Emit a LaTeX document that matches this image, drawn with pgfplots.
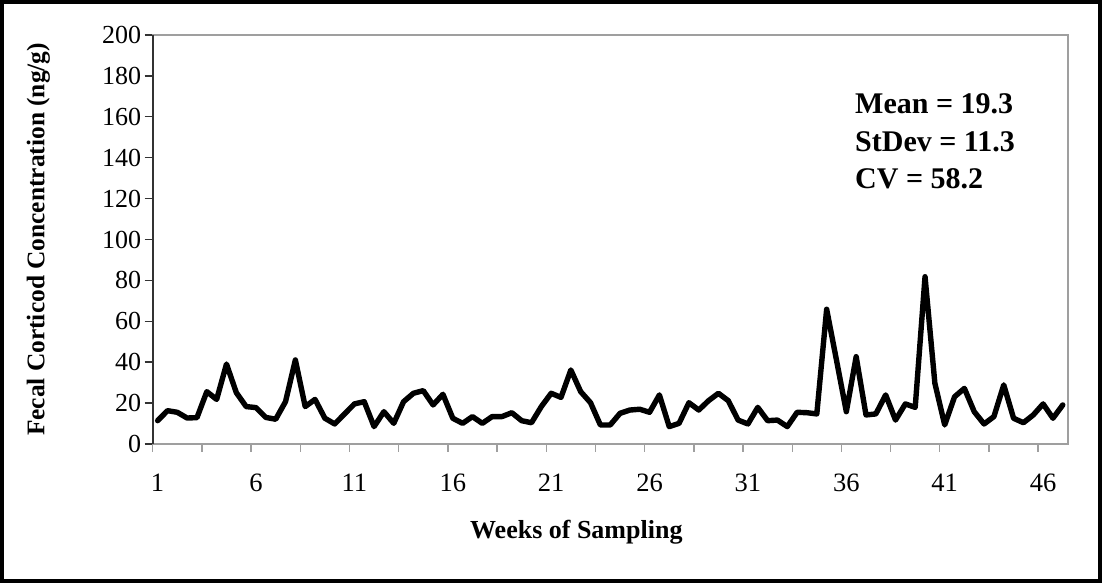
\documentclass[border=0pt]{standalone}
\usepackage{fontspec}
\setmainfont{Liberation Serif}
\usepackage{pgfplots}
\pgfplotsset{compat=1.18}
\usepackage{pgfplotstable}

% fecal corticoid concentration, two samples per week (index 0 = first sample of week 1)
\pgfplotstableread{
k conc
0 11.4
1 16.3
2 15.5
3 12.7
4 12.9
5 25.6
6 21.8
7 39.1
8 25.1
9 18.3
10 17.8
11 13.0
12 12.1
13 20.7
14 41.1
15 18.3
16 21.8
17 12.6
18 9.8
19 14.7
20 19.6
21 20.7
22 8.5
23 15.8
24 10.1
25 20.7
26 24.8
27 26.1
28 19.1
29 24.3
30 12.6
31 10.1
32 13.4
33 10.1
34 13.4
35 13.4
36 15.3
37 11.4
38 10.4
39 18.3
40 24.8
41 22.8
42 36.2
43 25.6
44 20.2
45 9.3
46 9.3
47 15.0
48 16.6
49 17.0
50 15.5
51 24.0
52 8.5
53 10.1
54 20.2
55 16.6
56 21.2
57 24.8
58 21.2
59 11.7
60 9.8
61 17.9
62 11.4
63 11.7
64 8.5
65 15.5
66 15.3
67 14.7
68 65.9
69 41.0
70 15.8
71 42.7
72 14.2
73 14.7
74 24.0
75 11.7
76 19.6
77 17.9
78 81.8
79 29.7
80 9.3
81 23.1
82 27.2
83 15.8
84 9.8
85 13.4
86 28.9
87 12.6
88 10.4
89 14.2
90 19.6
91 12.6
92 19.1
}\conctable

\begin{document}
\begin{tikzpicture}[x=1pt,y=1pt]
\useasboundingbox (0,0) rectangle (1102,583);
% outer chart frame
\draw[line width=4pt] (2,2) rectangle (1100,581);

\begin{axis}[
  at={(152.7pt,139pt)}, anchor=south west,
  scale only axis, width=915pt, height=409pt,
  xmin=-0.5, xmax=92.5, ymin=0, ymax=200,
  axis line style={draw=gray!75, line width=1.6pt},
  ytick={0,20,...,200},
  xtick={-0.5,4.5,...,89.5},
  xticklabels={},
  xtick pos=bottom, ytick pos=left,
  extra x ticks={0,10,...,90},
  extra x tick labels={1,6,11,16,21,26,31,36,41,46},
  extra x tick style={major tick length=0pt, xticklabel style={yshift=-26pt}},
  tick align=outside,
  major tick length=8pt,
  ytick style={draw=black!80, line width=1.4pt},
  xtick style={draw=gray!75, line width=1.4pt},
  x tick label style={font=\fontsize{26.5}{30}\selectfont},
  y tick label style={font=\fontsize{26}{30}\selectfont, xshift=0pt},
  /pgf/number format/assume math mode=true,
  ylabel={\textbf{Fecal Corticod Concentration (ng/g)}},
  ylabel style={font=\fontsize{25.4}{30}\selectfont, at={(axis description cs:-0.125,0.5)}, anchor=center},
  xlabel={\textbf{Weeks of Sampling}},
  xlabel style={font=\fontsize{26}{30}\selectfont, at={(axis description cs:0.463,-0.215)}, anchor=center},
  clip=false,
]
\addplot[black, line width=5.4pt, line join=round, line cap=round] table[x=k, y=conc] {\conctable};
\draw[black!80, line width=1.6pt] (axis cs:-0.5,0) -- (axis cs:-0.5,200);
\end{axis}

% summary statistics
\begin{scope}[every node/.style={anchor=base west, inner sep=0pt, font=\fontsize{30}{36}\selectfont\bfseries}]
\node at (855,469) {Mean = 19.3};
\node at (855,431) {StDev = 11.3};
\node at (855,394) {CV = 58.2};
\end{scope}
\end{tikzpicture}
\end{document}
